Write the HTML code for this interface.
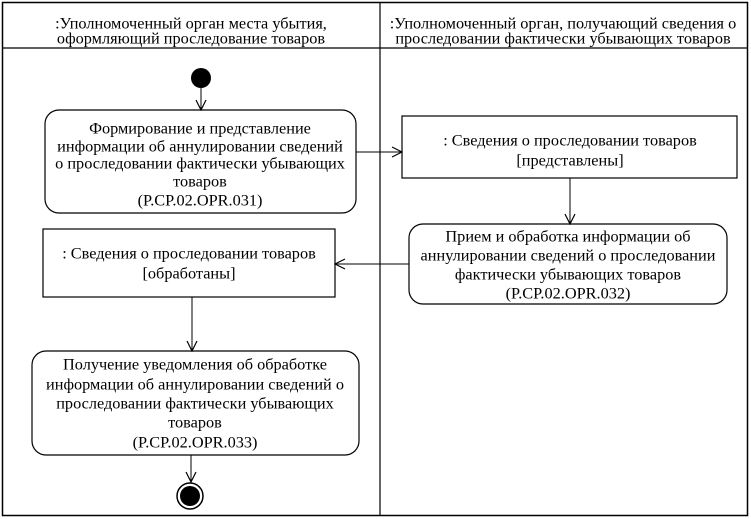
<!DOCTYPE html>
<html><head><meta charset="utf-8"><style>
html,body{margin:0;padding:0;background:#fff;}
svg{display:block;}
text{font-family:"Liberation Serif",serif;font-size:16.3px;fill:#000;}
</style></head><body>
<svg width="751" height="519" viewBox="0 0 751 519" xmlns="http://www.w3.org/2000/svg">
<defs><marker id="a" markerWidth="12" markerHeight="12" refX="11" refY="6" orient="auto" markerUnits="userSpaceOnUse"><path d="M1,1 L11,6 L1,11" fill="none" stroke="#000" stroke-width="1.2"/></marker></defs>
<rect x="2.5" y="2.5" width="745" height="513" fill="none" stroke="#000" stroke-width="1.5"/>
<line x1="2" y1="48" x2="748" y2="48" stroke="#000" stroke-width="1.2"/>
<line x1="380" y1="2" x2="380" y2="516" stroke="#000" stroke-width="1.2"/>
<g text-anchor="middle" dominant-baseline="central">
<text x="191" y="23">:Уполномоченный орган места убытия,</text>
<text x="191" y="38">оформляющий проследование товаров</text>
<text x="563" y="23">:Уполномоченный орган, получающий сведения о</text>
<text x="563" y="38">проследовании фактически убывающих товаров</text>
</g>
<circle cx="201" cy="78" r="10" fill="#000"/>
<line x1="201" y1="88" x2="201" y2="110" stroke="#000" marker-end="url(#a)"/>
<rect x="45" y="110" width="311" height="103" rx="14" fill="none" stroke="#000" stroke-width="1.2"/>
<g text-anchor="middle" dominant-baseline="central">
<text x="200" y="128">Формирование и представление</text>
<text x="200" y="146">информации об аннулировании сведений</text>
<text x="200" y="163">о проследовании фактически убывающих</text>
<text x="200" y="181">товаров</text>
<text x="200" y="200">(P.CP.02.OPR.031)</text>
</g>
<line x1="356" y1="152" x2="402" y2="152" stroke="#000" marker-end="url(#a)"/>
<rect x="402" y="116" width="335" height="62" fill="none" stroke="#000" stroke-width="1.2"/>
<g text-anchor="middle" dominant-baseline="central">
<text x="570" y="140">: Сведения о проследовании товаров</text>
<text x="570" y="160">[представлены]</text>
</g>
<line x1="570" y1="178" x2="570" y2="224" stroke="#000" marker-end="url(#a)"/>
<rect x="409" y="224" width="318" height="80" rx="14" fill="none" stroke="#000" stroke-width="1.2"/>
<g text-anchor="middle" dominant-baseline="central">
<text x="568" y="236">Прием и обработка информации об</text>
<text x="568" y="255">аннулировании сведений  о проследовании</text>
<text x="568" y="274">фактически убывающих товаров</text>
<text x="568" y="293">(P.CP.02.OPR.032)</text>
</g>
<line x1="409" y1="264" x2="335" y2="264" stroke="#000" marker-end="url(#a)"/>
<rect x="43" y="229" width="292" height="68" fill="none" stroke="#000" stroke-width="1.2"/>
<g text-anchor="middle" dominant-baseline="central">
<text x="189" y="253">: Сведения о проследовании товаров</text>
<text x="189" y="273">[обработаны]</text>
</g>
<line x1="192" y1="297" x2="192" y2="351" stroke="#000" marker-end="url(#a)"/>
<rect x="32" y="351" width="327" height="104" rx="14" fill="none" stroke="#000" stroke-width="1.2"/>
<g text-anchor="middle" dominant-baseline="central">
<text x="195" y="364">Получение уведомления об обработке</text>
<text x="195" y="384">информации об аннулировании сведений  о</text>
<text x="195" y="403">проследовании фактически убывающих</text>
<text x="195" y="422">товаров</text>
<text x="195" y="442">(P.CP.02.OPR.033)</text>
</g>
<line x1="191" y1="455" x2="191" y2="482" stroke="#000" marker-end="url(#a)"/>
<circle cx="190" cy="496" r="13" fill="#fff" stroke="#000" stroke-width="1.5"/>
<circle cx="190" cy="496" r="10" fill="#000"/>
</svg>
</body></html>
